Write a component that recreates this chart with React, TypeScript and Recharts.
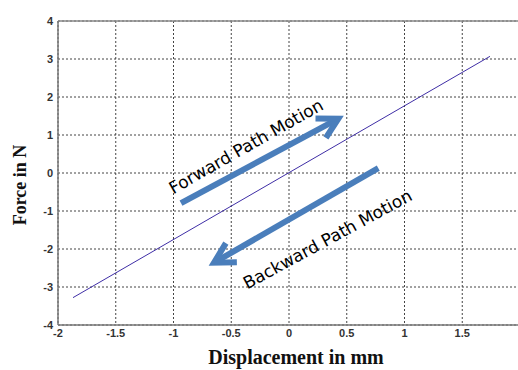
import { CartesianGrid, Line, LineChart, ReferenceLine, XAxis, YAxis } from "recharts";

// force vs displacement, straight line end points
const displacement = [-1.87, 1.74];
const force = [-3.28, 3.07];

const xTicks = [-2, -1.5, -1, -0.5, 0, 0.5, 1, 1.5, 2];
const yTicks = [-4, -3, -2, -1, 0, 1, 2, 3, 4];

// annotation arrows and their captions, in data units (start -> end)
const forwardArrow = [{ x: -0.935, y: -0.79 }, { x: 0.427, y: 1.43 }];
const backwardArrow = [{ x: 0.773, y: 0.13 }, { x: -0.649, y: -2.36 }];
const forwardCaption = [{ x: -0.975, y: -0.336 }, { x: 0.23, y: 1.741 }];
const backwardCaption = [{ x: -0.275, y: -2.747 }, { x: 0.942, y: -0.739 }];

const data = displacement.map((x, i) => ({ x, force: force[i] }));

const ARROW = "#4a7ebb";
const tickStyle = { fill: "#333", fontSize: 11, fontWeight: "bold", fontFamily: "Liberation Sans, Arial, sans-serif" };
const titleFont = "Liberation Serif, Times New Roman, serif";

function Arrow(p: any) {
  const { x1, y1, x2, y2 } = p;
  const len = Math.hypot(x2 - x1, y2 - y1);
  const ux = (x2 - x1) / len;
  const uy = (y2 - y1) / len;
  const head = 20;
  const half = 11;
  const b1 = `${x2 - ux * head - uy * half},${y2 - uy * head + ux * half}`;
  const b2 = `${x2 - ux * head + uy * half},${y2 - uy * head - ux * half}`;
  return (
    <g>
      <line x1={x1} y1={y1} x2={x2 - ux * 2} y2={y2 - uy * 2} stroke={ARROW} strokeWidth={6} />
      <polyline points={`${b1} ${x2},${y2} ${b2}`} fill="none" stroke={ARROW} strokeWidth={6} strokeLinejoin="miter" />
    </g>
  );
}

function caption(text: string) {
  return (p: any) => {
    const { x1, y1, x2, y2 } = p;
    const cx = (x1 + x2) / 2;
    const cy = (y1 + y2) / 2;
    const angle = (Math.atan2(y2 - y1, x2 - x1) * 180) / Math.PI;
    return (
      <text
        x={cx}
        y={cy}
        transform={`rotate(${angle}, ${cx}, ${cy})`}
        textAnchor="middle"
        dominantBaseline="central"
        fontSize={17}
        fontFamily="DejaVu Sans, sans-serif"
        fill="#000"
      >
        {text}
      </text>
    );
  };
}

export default function App() {
  return (
    <div style={{ position: "absolute", left: 0, top: 0, width: 518, height: 370, overflow: "hidden", background: "#fff" }}>
      <LineChart width={530} height={370} data={data} margin={{ top: 21, right: 10, left: 0, bottom: 0 }}>
        <CartesianGrid stroke="#444" strokeDasharray="2 2" />
        <XAxis
          type="number"
          dataKey="x"
          domain={[-2, 2]}
          ticks={xTicks}
          interval={0}
          height={45}
          tick={tickStyle}
          tickFormatter={(v: number) => (v === 2 ? "" : String(v))}
          tickLine={false}
          tickSize={3}
          tickMargin={1}
          axisLine={{ stroke: "#777", strokeWidth: 1.5 }}
          label={(props: any) => {
            const vb = props.viewBox;
            return (
              <text x={vb.x + vb.width / 2 + 7} y={vb.y + 39} textAnchor="middle" fontSize={20} fontWeight="bold" fontFamily={titleFont} fill="#111">
                Displacement in mm
              </text>
            );
          }}
        />
        <YAxis
          type="number"
          domain={[-4, 4]}
          ticks={yTicks}
          interval={0}
          width={58}
          tick={tickStyle}
          tickLine={false}
          tickSize={3}
          tickMargin={2}
          axisLine={{ stroke: "#777", strokeWidth: 1.5 }}
          label={(props: any) => {
            const vb = props.viewBox;
            const cx = vb.x + 20;
            const cy = vb.y + vb.height / 2 + 12;
            return (
              <text x={cx} y={cy} transform={`rotate(-90, ${cx}, ${cy})`} textAnchor="middle" dominantBaseline="central" fontSize={18} fontWeight="bold" fontFamily={titleFont} fill="#111">
                Force in N
              </text>
            );
          }}
        />
        <ReferenceLine y={4} stroke="#888" strokeWidth={1.5} />
        <Line type="linear" dataKey="force" stroke="#3f2ea6" strokeWidth={1} dot={false} isAnimationActive={false} />
        <ReferenceLine segment={forwardArrow} shape={Arrow} />
        <ReferenceLine segment={backwardArrow} shape={Arrow} />
        <ReferenceLine segment={forwardCaption} shape={caption("Forward Path Motion")} />
        <ReferenceLine segment={backwardCaption} shape={caption("Backward Path Motion")} />
      </LineChart>
    </div>
  );
}
